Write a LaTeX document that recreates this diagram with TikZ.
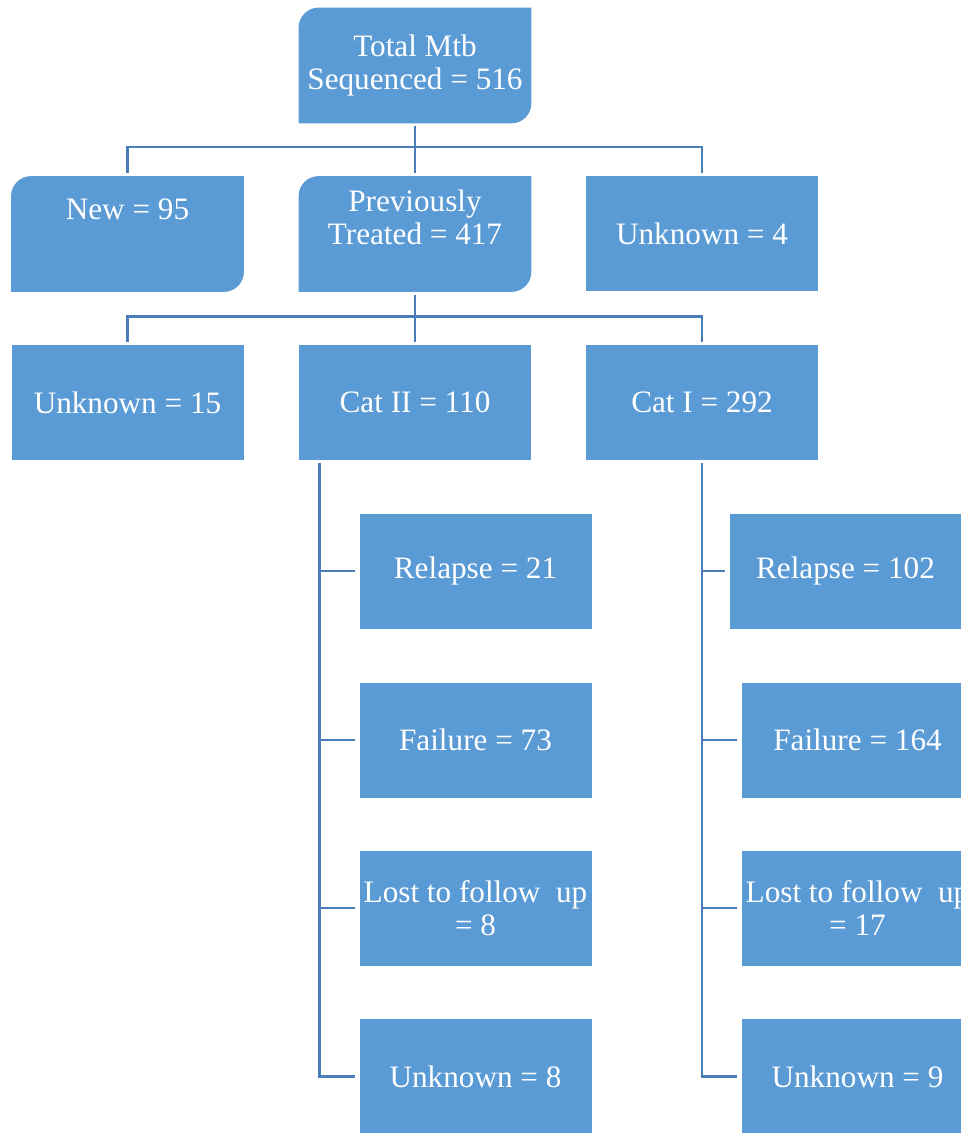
\documentclass[tikz,border=0pt]{standalone}
\usepackage{fontspec}
\setmainfont{Liberation Serif}
\usetikzlibrary{backgrounds}

\definecolor{boxblue}{HTML}{5B9BD5}
\definecolor{linkblue}{HTML}{4A7EBB}

% fill with rounded top-left and bottom-right corners
\newcommand{\roundfill}[1]{%
  \fill[boxblue] (#1.south west) -- ([yshift=-10pt]#1.north west)
    arc[start angle=180, end angle=90, radius=10pt] -- (#1.north east)
    -- ([yshift=10pt]#1.south east)
    arc[start angle=0, end angle=-90, radius=10pt] -- cycle;}

\begin{document}
\begin{tikzpicture}[x=0.5pt, y=-0.5pt,
    box/.style={fill=boxblue, text=white, minimum width=116pt, minimum height=57.5pt,
      inner sep=1pt, align=center, font=\fontsize{15.6}{16.5}\selectfont},
    roundbox/.style={box, fill=none},
    link/.style={draw=linkblue, line width=1.2pt}]
  \clip (0,0) rectangle (961,1133);

  % Top
  \node[roundbox] (total) at (415,65.5) {Total Mtb\\Sequenced = 516};

  % Second row
  \node[roundbox] (new) at (127.5,234) {New = 95\\[8.5pt]\mbox{}};
  \node[roundbox] (prev) at (415,234) {Previously\\Treated = 417\\\mbox{}};
  \node[box] (unk4) at (702,234) {Unknown = 4};

  % Third row
  \node[box] (unk15) at (127.5,402.5) {Unknown = 15};
  \node[box] (cat2) at (415,402.5) {Cat II = 110};
  \node[box] (cat1) at (702,402.5) {Cat I = 292};

  % Cat II outcomes
  \node[box] (rel2) at (475.5,571) {Relapse = 21};
  \node[box] (fail2) at (475.5,740) {Failure = 73};
  \node[box] (lost2) at (475.5,908) {Lost to follow~ up\\= 8};
  \node[box] (unk8) at (475.5,1076.5) {Unknown = 8};

  % Cat I outcomes
  \node[box] (rel1) at (845.5,571) {Relapse = 102};
  \node[box] (fail1) at (857.5,740) {Failure = 164};
  \node[box] (lost1) at (857.5,908) {Lost to follow~ up\\= 17};
  \node[box] (unk9) at (857.5,1076.5) {Unknown = 9};

  \begin{scope}[on background layer]
    \foreach \n in {total,new,prev} \roundfill{\n};
  \end{scope}

  % Tree lines
  \draw[link, shorten <=1.5pt, shorten >=1.5pt] (total.south) -- (prev.north);
  \draw[link] ([yshift=1.5pt]new.north) -- ++(0,-26) -| ([yshift=1.5pt]unk4.north);
  \draw[link, shorten <=1.5pt, shorten >=1.5pt] (prev.south) -- (cat2.north);
  \draw[link] ([yshift=1.5pt]unk15.north) -- ++(0,-25) -| ([yshift=1.5pt]cat1.north);

  % Cat II branch
  \coordinate (c2top) at ([xshift=10.5pt, yshift=-1.5pt]cat2.south west);
  \draw[link] (c2top) |- ([xshift=-2pt]unk8.west);
  \foreach \n in {rel2,fail2,lost2}
    \draw[link] ([xshift=-2pt]\n.west) -- (\n.west -| c2top);

  % Cat I branch
  \coordinate (c1top) at ([yshift=-1.5pt]cat1.south);
  \draw[link] (c1top) |- ([xshift=-2pt]unk9.west);
  \foreach \n in {rel1,fail1,lost1}
    \draw[link] ([xshift=-2pt]\n.west) -- (\n.west -| c1top);
\end{tikzpicture}
\end{document}
